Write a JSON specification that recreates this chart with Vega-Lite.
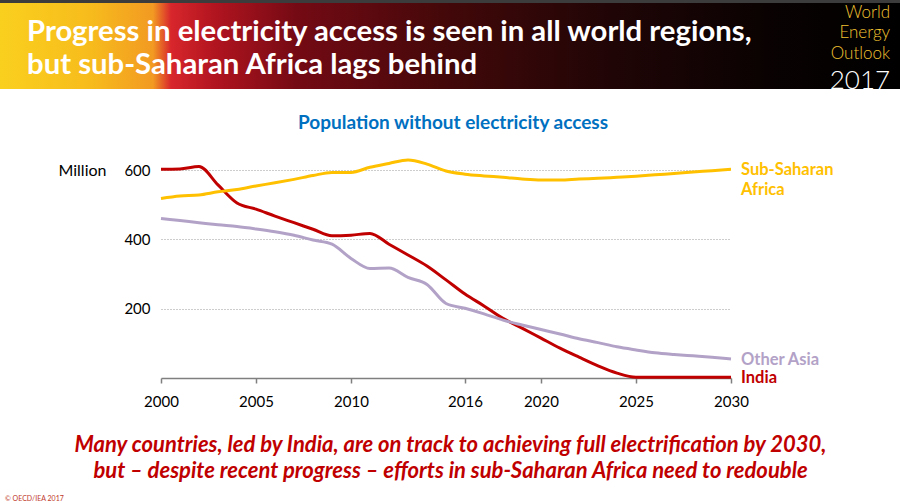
{
  "$schema": "https://vega.github.io/schema/vega-lite/v6.json",
  "padding": 0,
  "background": "white",
  "bounds": "flush",
  "center": true,
  "spacing": 81,
  "title": {"text": "© OECD/IEA 2017", "orient": "bottom", "anchor": "start", "frame": "bounds", "fontSize": 7, "font": "Lato", "fontWeight": "normal", "color": "#C0392B", "dx": 5, "offset": 14},
  "config": {"view": {"stroke": null}, "font": "Lato"},
  "datasets": {
    "lines": [
      {"series": "India", "year": 2000, "value": 602}, {"series": "India", "year": 2001, "value": 603}, {"series": "India", "year": 2002, "value": 610},
      {"series": "India", "year": 2003, "value": 557}, {"series": "India", "year": 2004, "value": 505}, {"series": "India", "year": 2005, "value": 487},
      {"series": "India", "year": 2006, "value": 467}, {"series": "India", "year": 2007, "value": 448}, {"series": "India", "year": 2008, "value": 429},
      {"series": "India", "year": 2009, "value": 410}, {"series": "India", "year": 2010, "value": 412}, {"series": "India", "year": 2011, "value": 417},
      {"series": "India", "year": 2012, "value": 386}, {"series": "India", "year": 2013, "value": 355}, {"series": "India", "year": 2014, "value": 323},
      {"series": "India", "year": 2015, "value": 283}, {"series": "India", "year": 2016, "value": 242}, {"series": "India", "year": 2017, "value": 208},
      {"series": "India", "year": 2018, "value": 172}, {"series": "India", "year": 2019, "value": 144}, {"series": "India", "year": 2020, "value": 115},
      {"series": "India", "year": 2021, "value": 86}, {"series": "India", "year": 2022, "value": 60}, {"series": "India", "year": 2023, "value": 35},
      {"series": "India", "year": 2024, "value": 14}, {"series": "India", "year": 2025, "value": 2}, {"series": "India", "year": 2026, "value": 2},
      {"series": "India", "year": 2027, "value": 2}, {"series": "India", "year": 2028, "value": 2}, {"series": "India", "year": 2029, "value": 2},
      {"series": "India", "year": 2030, "value": 2},
      {"series": "Sub-Saharan Africa", "year": 2000, "value": 518}, {"series": "Sub-Saharan Africa", "year": 2001, "value": 525}, {"series": "Sub-Saharan Africa", "year": 2002, "value": 528},
      {"series": "Sub-Saharan Africa", "year": 2003, "value": 537}, {"series": "Sub-Saharan Africa", "year": 2004, "value": 544}, {"series": "Sub-Saharan Africa", "year": 2005, "value": 554},
      {"series": "Sub-Saharan Africa", "year": 2006, "value": 563}, {"series": "Sub-Saharan Africa", "year": 2007, "value": 573}, {"series": "Sub-Saharan Africa", "year": 2008, "value": 584},
      {"series": "Sub-Saharan Africa", "year": 2009, "value": 593}, {"series": "Sub-Saharan Africa", "year": 2010, "value": 593}, {"series": "Sub-Saharan Africa", "year": 2011, "value": 608},
      {"series": "Sub-Saharan Africa", "year": 2012, "value": 619}, {"series": "Sub-Saharan Africa", "year": 2013, "value": 629}, {"series": "Sub-Saharan Africa", "year": 2014, "value": 617},
      {"series": "Sub-Saharan Africa", "year": 2015, "value": 597}, {"series": "Sub-Saharan Africa", "year": 2016, "value": 588}, {"series": "Sub-Saharan Africa", "year": 2017, "value": 583},
      {"series": "Sub-Saharan Africa", "year": 2018, "value": 579}, {"series": "Sub-Saharan Africa", "year": 2019, "value": 574}, {"series": "Sub-Saharan Africa", "year": 2020, "value": 571},
      {"series": "Sub-Saharan Africa", "year": 2021, "value": 571}, {"series": "Sub-Saharan Africa", "year": 2022, "value": 574}, {"series": "Sub-Saharan Africa", "year": 2023, "value": 576},
      {"series": "Sub-Saharan Africa", "year": 2024, "value": 579}, {"series": "Sub-Saharan Africa", "year": 2025, "value": 582}, {"series": "Sub-Saharan Africa", "year": 2026, "value": 586},
      {"series": "Sub-Saharan Africa", "year": 2027, "value": 590}, {"series": "Sub-Saharan Africa", "year": 2028, "value": 594}, {"series": "Sub-Saharan Africa", "year": 2029, "value": 598},
      {"series": "Sub-Saharan Africa", "year": 2030, "value": 602},
      {"series": "Other Asia", "year": 2000, "value": 460}, {"series": "Other Asia", "year": 2001, "value": 454}, {"series": "Other Asia", "year": 2002, "value": 448},
      {"series": "Other Asia", "year": 2003, "value": 442}, {"series": "Other Asia", "year": 2004, "value": 437}, {"series": "Other Asia", "year": 2005, "value": 430},
      {"series": "Other Asia", "year": 2006, "value": 422}, {"series": "Other Asia", "year": 2007, "value": 412}, {"series": "Other Asia", "year": 2008, "value": 398},
      {"series": "Other Asia", "year": 2009, "value": 386}, {"series": "Other Asia", "year": 2010, "value": 345}, {"series": "Other Asia", "year": 2011, "value": 316},
      {"series": "Other Asia", "year": 2012, "value": 317}, {"series": "Other Asia", "year": 2013, "value": 290}, {"series": "Other Asia", "year": 2014, "value": 270},
      {"series": "Other Asia", "year": 2015, "value": 215}, {"series": "Other Asia", "year": 2016, "value": 201}, {"series": "Other Asia", "year": 2017, "value": 185},
      {"series": "Other Asia", "year": 2018, "value": 167}, {"series": "Other Asia", "year": 2019, "value": 153}, {"series": "Other Asia", "year": 2020, "value": 140},
      {"series": "Other Asia", "year": 2021, "value": 127}, {"series": "Other Asia", "year": 2022, "value": 113}, {"series": "Other Asia", "year": 2023, "value": 102},
      {"series": "Other Asia", "year": 2024, "value": 90}, {"series": "Other Asia", "year": 2025, "value": 81}, {"series": "Other Asia", "year": 2026, "value": 73},
      {"series": "Other Asia", "year": 2027, "value": 68}, {"series": "Other Asia", "year": 2028, "value": 64}, {"series": "Other Asia", "year": 2029, "value": 60},
      {"series": "Other Asia", "year": 2030, "value": 55}
    ],
    "labels": [
      {"series": "Sub-Saharan Africa", "label": "Sub-Saharan\nAfrica", "year": 2030, "value": 602},
      {"series": "Other Asia", "label": "Other Asia", "year": 2030, "value": 55},
      {"series": "India", "label": "India", "year": 2030, "value": 2}
    ]
  },
  "vconcat": [
    {
      "width": 900,
      "height": 89,
      "title": {
        "text": ["Progress in electricity access is seen in all world regions,", "but sub-Saharan Africa lags behind"],
        "anchor": "start", "frame": "group", "orient": "top",
        "font": "Lato", "fontSize": 29.3, "fontWeight": "bold", "color": "white",
        "lineHeight": 33, "dx": 27, "offset": -80
      },
      "data": {"values": [{"k": 1}]},
      "layer": [
        {
          "mark": {"type": "rect", "fill": {"gradient": "linear", "x1": 0, "y1": 0, "x2": 1, "y2": 0, "stops": [
            {"offset": 0, "color": "#FAD01E"},
            {"offset": 0.1, "color": "#F7BC1C"},
            {"offset": 0.17, "color": "#F29A22"},
            {"offset": 0.19, "color": "#D8262C"},
            {"offset": 0.24, "color": "#B0141F"},
            {"offset": 0.33, "color": "#740A14"},
            {"offset": 0.5, "color": "#420809"},
            {"offset": 0.68, "color": "#200506"},
            {"offset": 0.85, "color": "#0A0202"},
            {"offset": 1, "color": "#000000"}
          ]}},
          "encoding": {
            "x": {"datum": 0, "type": "quantitative", "scale": {"domain": [0, 1], "nice": false, "zero": false}, "axis": null},
            "x2": {"datum": 1},
            "y": {"datum": 0, "type": "quantitative", "scale": {"domain": [0, 1], "nice": false, "zero": false}, "axis": null},
            "y2": {"datum": 1}
          }
        },
        {
          "mark": {"type": "rect", "fill": "#3C3C3C"},
          "encoding": {
            "x": {"datum": 0, "type": "quantitative"},
            "x2": {"datum": 1},
            "y": {"datum": 0.966, "type": "quantitative"},
            "y2": {"datum": 1}
          }
        },
        {
          "mark": {"type": "text", "text": ["World", "Energy", "Outlook"], "align": "right", "baseline": "alphabetic", "font": "Lato", "fontSize": 17, "fontWeight": 300, "lineHeight": 20.5, "fill": "#F2C230"},
          "encoding": {
            "x": {"datum": 0.989, "type": "quantitative"},
            "y": {"datum": 0.7978, "type": "quantitative"}
          }
        },
        {
          "mark": {"type": "text", "text": "2017", "align": "right", "baseline": "alphabetic", "font": "Lato", "fontSize": 26, "fontWeight": 300, "fill": "white"},
          "encoding": {
            "x": {"datum": 0.989, "type": "quantitative"},
            "y": {"datum": 0.0056, "type": "quantitative"}
          }
        }
      ]
    },
    {
      "width": 578,
      "height": 208,
      "title": {"text": "Population without electricity access", "frame": "group", "anchor": "middle", "font": "Lato", "fontSize": 19, "fontWeight": "bold", "color": "#0070C0", "dx": 3, "offset": 21},
      "layer": [
        {
          "data": {"name": "lines"},
          "mark": {"type": "line", "strokeWidth": 3, "interpolate": "monotone"},
          "encoding": {
            "x": {
              "field": "year", "type": "quantitative",
              "scale": {"domain": [2000, 2030], "range": [0, 570], "nice": false, "zero": false},
              "axis": {
                "values": [2000, 2005, 2010, 2016, 2020, 2025, 2030], "format": "d", "grid": false,
                "domainColor": "#7f7f7f", "domainWidth": 1.5, "tickColor": "#7f7f7f", "tickSize": 5, "tickWidth": 1.5,
                "labelFont": "Lato", "labelFontSize": 15, "labelColor": "black", "labelPadding": 11, "labelFlush": false, "labelOverlap": false,
                "title": ["Many countries, led by India, are on track to achieving full electrification by 2030,", "but – despite recent progress – efforts in sub-Saharan Africa need to redouble"],
                "titleFont": "Lato", "titleFontSize": 22, "titleFontStyle": "italic", "titleFontWeight": "bold", "titleColor": "#C00000",
                "titleLineHeight": 26, "titleX": 289, "titleY": 56, "titleAlign": "center", "titleBaseline": "top"
              }
            },
            "y": {
              "field": "value", "type": "quantitative",
              "scale": {"domain": [0, 600], "nice": false, "zero": true},
              "axis": {
                "values": [200, 400, 600], "grid": true, "gridDash": [1, 2], "gridColor": "#9a9a9a", "gridWidth": 1,
                "domain": false, "ticks": false,
                "labelFont": "Lato", "labelFontSize": 15, "labelColor": "black", "labelPadding": 11,
                "title": "Million", "titleAngle": 0, "titleX": -103, "titleY": 0, "titleAlign": "left", "titleBaseline": "middle",
                "titleFont": "Lato", "titleFontWeight": "normal", "titleFontSize": 16, "titleColor": "black"
              }
            },
            "color": {
              "field": "series", "type": "nominal",
              "scale": {"domain": ["Sub-Saharan Africa", "Other Asia", "India"], "range": ["#FFC000", "#B3A2C7", "#C00000"]},
              "legend": null
            }
          }
        },
        {
          "data": {"name": "labels"},
          "mark": {"type": "text", "align": "left", "baseline": "alphabetic", "dx": 10, "dy": 6, "font": "Lato", "fontSize": 16.5, "fontWeight": "bold", "lineBreak": "\n", "lineHeight": 20},
          "encoding": {
            "x": {"field": "year", "type": "quantitative"},
            "y": {"field": "value", "type": "quantitative"},
            "text": {"field": "label"},
            "color": {"field": "series", "type": "nominal"}
          }
        }
      ]
    }
  ]
}
